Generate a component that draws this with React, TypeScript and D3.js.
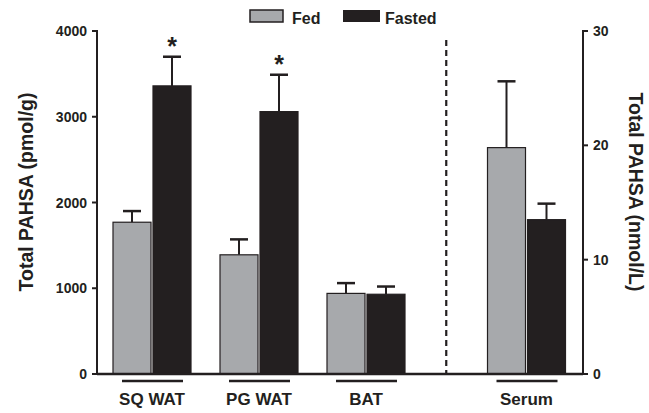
import React from "react";
import * as d3 from "d3";

// tissue groups (left axis, pmol/g) and serum (right axis, nmol/L)
const groups = ["SQ WAT", "PG WAT", "BAT", "Serum"];
const groupPos = [0, 1, 2, 3.5];
const fedMean = [1770, 1390, 940, 19.8];
const fedErr = [130, 180, 120, 5.8];
const fastedMean = [3360, 3060, 930, 13.5];
const fastedErr = [340, 430, 90, 1.4];
const significant = [true, true, false, false];
const leftTicks = [0, 1000, 2000, 3000, 4000];
const rightTicks = [0, 10, 20, 30];

const W = 649;
const H = 413;
const FONT = "'Liberation Sans', Arial, sans-serif";
const GRAY = "#a7a9ac";
const BLACK = "#231f20";

export default function App() {
  const yL = d3.scaleLinear().domain([0, 4000]).range([374, 31]);
  const yR = d3.scaleLinear().domain([0, 30]).range([374, 31]);
  const x = d3.scaleLinear().domain([0, 3.5]).range([152, 526.5]);
  const axL = 97;
  const axR = 583;
  const bw = 38;
  const gap = 2;

  const bars = groups.flatMap((g, i) => {
    const y = groups[i] === "Serum" ? yR : yL;
    return [
      { key: g + "fed", x0: x(groupPos[i]) - gap / 2 - bw, v: fedMean[i], e: fedErr[i], fill: GRAY, y },
      { key: g + "fast", x0: x(groupPos[i]) + gap / 2, v: fastedMean[i], e: fastedErr[i], fill: BLACK, y },
    ];
  });

  return (
    <svg width={W} height={H} style={{ position: "absolute", left: 0, top: 0 }} fontFamily={FONT}>
      {/* bars with error bars */}
      {bars.map((b) => {
        const cx = b.x0 + bw / 2;
        const top = b.y(b.v + b.e);
        return (
          <g key={b.key}>
            <line x1={cx} x2={cx} y1={b.y(b.v)} y2={top} stroke={BLACK} strokeWidth={2} />
            <line x1={cx - 9} x2={cx + 9} y1={top} y2={top} stroke={BLACK} strokeWidth={2.5} />
            <rect x={b.x0} y={b.y(b.v)} width={bw} height={b.y(0) - b.y(b.v)} fill={b.fill} stroke={BLACK} strokeWidth={1.2} />
          </g>
        );
      })}
      {/* significance stars */}
      {groups.map((g, i) =>
        significant[i] ? (
          <text key={g + "star"} x={x(groupPos[i]) + gap / 2 + bw / 2} y={yL(fastedMean[i] + fastedErr[i]) - 2} textAnchor="middle" fontSize={25} fontWeight="bold" fill={BLACK}>
            *
          </text>
        ) : null
      )}
      {/* dashed separator */}
      <line x1={x(2.75)} x2={x(2.75)} y1={40} y2={374} stroke={BLACK} strokeWidth={2.2} strokeDasharray="6,4" />
      {/* axes */}
      <line x1={axL} x2={axR} y1={374} y2={374} stroke={BLACK} strokeWidth={2.5} />
      <line x1={axL} x2={axL} y1={30} y2={375} stroke={BLACK} strokeWidth={2} />
      <line x1={axR} x2={axR} y1={30} y2={375} stroke={BLACK} strokeWidth={2} />
      {leftTicks.map((t) => (
        <g key={"l" + t}>
          <line x1={axL - 5} x2={axL} y1={yL(t)} y2={yL(t)} stroke={BLACK} strokeWidth={2} />
          <text x={axL - 10} y={yL(t)} dy="0.36em" textAnchor="end" fontSize={14} fontWeight="bold" fill={BLACK}>
            {t}
          </text>
        </g>
      ))}
      {rightTicks.map((t) => (
        <g key={"r" + t}>
          <line x1={axR} x2={axR + 5} y1={yR(t)} y2={yR(t)} stroke={BLACK} strokeWidth={2} />
          <text x={axR + 10} y={yR(t)} dy="0.36em" textAnchor="start" fontSize={14} fontWeight="bold" fill={BLACK}>
            {t}
          </text>
        </g>
      ))}
      {/* group labels with underlines */}
      {groups.map((g, i) => (
        <g key={g + "lab"}>
          <line x1={x(groupPos[i]) - 30} x2={x(groupPos[i]) + 31} y1={381} y2={381} stroke={BLACK} strokeWidth={2.5} />
          <text x={x(groupPos[i])} y={405} textAnchor="middle" fontSize={17} fontWeight="bold" fill={BLACK}>
            {g}
          </text>
        </g>
      ))}
      {/* axis titles */}
      <text transform="translate(33,192) rotate(-90)" textAnchor="middle" fontSize={19.5} fontWeight="bold" fill={BLACK}>
        Total PAHSA (pmol/g)
      </text>
      <text transform="translate(629,192) rotate(90)" textAnchor="middle" fontSize={19.5} fontWeight="bold" fill={BLACK}>
        Total PAHSA (nmol/L)
      </text>
      {/* legend */}
      <rect x={250} y={10} width={33} height={12} fill={GRAY} stroke={BLACK} strokeWidth={1.5} />
      <text x={292} y={24} fontSize={16} fontWeight="bold" fill={BLACK}>Fed</text>
      <rect x={343} y={10} width={37} height={12} fill={BLACK} />
      <text x={385} y={24} fontSize={16} fontWeight="bold" fill={BLACK}>Fasted</text>
    </svg>
  );
}
